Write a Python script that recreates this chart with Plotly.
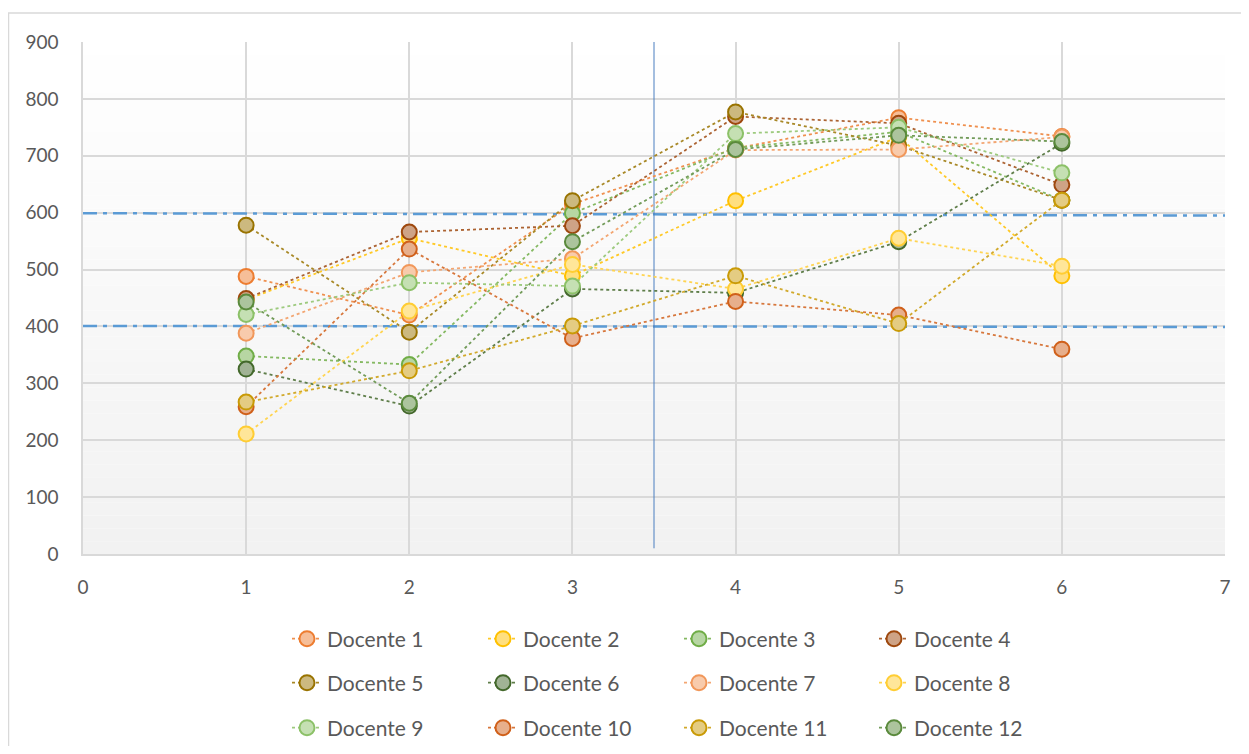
import plotly.graph_objects as go

# ---------------- data ----------------
x_vals = [1, 2, 3, 4, 5, 6]
names = [f"Docente {i}" for i in range(1, 13)]
d1 = [488, 420, 615, 713, 767, 734]
d2 = [447, 555, 489, 621, 733, 489]
d3 = [348, 333, 599, 714, 742, 622]
d4 = [449, 566, 577, 769, 757, 649]
d5 = [578, 390, 621, 777, 718, 622]
d6 = [325, 260, 466, 459, 549, 722]
d7 = [388, 495, 519, 710, 711, 733]
d8 = [211, 427, 509, 466, 555, 506]
d9 = [421, 477, 471, 739, 750, 670]
d10 = [259, 536, 379, 444, 420, 360]
d11 = [267, 322, 401, 489, 405, 622]
d12 = [443, 265, 549, 711, 736, 725]
series = [d1, d2, d3, d4, d5, d6, d7, d8, d9, d10, d11, d12]

# reference lines (value at x=0, value at x=7)
upper_ref = [599, 595]
lower_ref = [401, 399]
divider_x = 3.5

x_ticks = [0, 1, 2, 3, 4, 5, 6, 7]
y_ticks = [0, 100, 200, 300, 400, 500, 600, 700, 800, 900]

# ---------------- styles ----------------
edge_colors = ["#ED7D31", "#FFC000", "#70AD47", "#9E480E", "#997300", "#43682B",
               "#F1975A", "#FFCD33", "#8CC168", "#D0601A", "#C99A06", "#5A8A3C"]


def tint(hexc, a):
    h = hexc.lstrip("#")
    r, g, b = int(h[0:2], 16), int(h[2:4], 16), int(h[4:6], 16)
    r = int(r * a + 255 * (1 - a))
    g = int(g * a + 255 * (1 - a))
    b = int(b * a + 255 * (1 - a))
    return f"rgb({r},{g},{b})"


FONT = "Lato, 'Open Sans', sans-serif"
OFF = 8  # page body margin
W, H = 1233, 738
PL, PT, PW, PH = 83 - OFF, 42 - OFF, 1142, 512  # plot area in figure pixels

fig = go.Figure()

legend_ids = ["legend"] + [f"legend{i}" for i in range(2, 13)]
for i, (nm, ys) in enumerate(zip(names, series)):
    c = edge_colors[i]
    fig.add_trace(go.Scatter(
        x=x_vals, y=ys, name=nm, mode="lines+markers",
        line=dict(color=tint(c, 0.85), width=1.8, dash="dot"),
        marker=dict(size=15, color=tint(c, 0.5), line=dict(color=c, width=2)),
        legend=legend_ids[i],
    ))

# background gradient strips
n = 40
for k in range(n):
    y0 = 900 * k / n
    y1 = 900 * (k + 1) / n
    t = k / (n - 1)
    v = int(242 + (255 - 242) * t)
    fig.add_shape(type="rect", xref="x", yref="y", x0=0, x1=7, y0=y0, y1=y1,
                  fillcolor=f"rgb({v},{v},{v})", line=dict(width=0), layer="below")

# reference lines
for ref in (upper_ref, lower_ref):
    fig.add_shape(type="line", xref="x", yref="y", x0=0, x1=7, y0=ref[0], y1=ref[1],
                  line=dict(color="#5B9BD5", width=2.5, dash="14px,6px,4px,6px"),
                  layer="between")
fig.add_shape(type="line", xref="x", yref="y", x0=divider_x, x1=divider_x, y0=10, y1=900,
              line=dict(color="#4A7FC0", width=1), layer="between")

# outer chart border
fig.add_shape(type="rect", xref="paper", yref="paper",
              x0=(0.5 - PL) / PW, x1=(W + 20 - PL) / PW,
              y0=(PT + PH - (H + 20)) / PH, y1=(PT + PH - (13 - OFF)) / PH,
              line=dict(color="#D9D9D9", width=1.5), fillcolor="rgba(0,0,0,0)", layer="below")

# legends: one per entry, in a 4 x 3 grid (page pixel positions of text / row centres)
col_text_px = [328, 524, 720, 915]
row_px = [639, 683, 728]
legends = {}
for i, lid in enumerate(legend_ids):
    r, cidx = divmod(i, 4)
    legends[lid] = dict(
        orientation="h", font=dict(family=FONT, size=21, color="#595959"),
        bgcolor="rgba(0,0,0,0)", xanchor="left", yanchor="middle",
        x=(col_text_px[cidx] - OFF - 41 - PL) / PW,
        y=(PT + PH - (row_px[r] - OFF)) / PH,
    )

fig.update_layout(
    width=W, height=H,
    margin=dict(l=PL, r=W - PL - PW, t=PT, b=H - PT - PH, autoexpand=False),
    paper_bgcolor="white", plot_bgcolor="rgba(0,0,0,0)",
    font=dict(family=FONT, size=19, color="#595959"),
    showlegend=True,
    xaxis=dict(range=[0, 7], tickvals=x_ticks, showgrid=True, gridcolor="#D9D9D9",
               gridwidth=1.5, zeroline=False, showline=True, linecolor="#D9D9D9",
               linewidth=1.5, ticks="", tickfont=dict(size=19, color="#595959"),
               ticklabelstandoff=15),
    yaxis=dict(range=[0, 900], tickvals=y_ticks, showgrid=True, gridcolor="#D9D9D9",
               gridwidth=1.5, zeroline=False, showline=True, linecolor="#D9D9D9",
               linewidth=1.5, ticks="", tickfont=dict(size=19, color="#595959"),
               ticklabelstandoff=19),
    **legends,
)

fig.write_html("out.html")
